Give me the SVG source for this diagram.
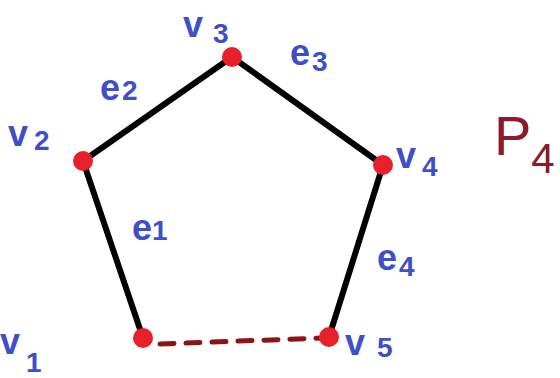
<svg xmlns="http://www.w3.org/2000/svg" width="560" height="378" viewBox="0 0 560 378">
<style>
.edge{stroke:#000;stroke-width:6;stroke-linecap:round;fill:none}
.dash{stroke:#8b1414;stroke-width:5;stroke-dasharray:14 12;stroke-linecap:round;fill:none}
.dot{fill:#e8202a}
.lbl{font-family:"Liberation Sans",Arial,sans-serif;font-size:36px;font-weight:bold;fill:#3f4fc8}
.sub{font-size:28px}
.p{font-family:"Liberation Sans",Arial,sans-serif;font-size:56px;fill:#8b1a2a}
</style>
<rect width="560" height="378" fill="#fff"/>
<g id="connectors">
<line class="edge" x1="143" y1="338" x2="83" y2="161"/>
<line class="edge" x1="83" y1="161" x2="232" y2="57"/>
<line class="edge" x1="232" y1="57" x2="383" y2="165"/>
<line class="edge" x1="383" y1="165" x2="329" y2="337"/>
<line class="dash" x1="160" y1="344" x2="322" y2="338"/>
</g>
<g id="v1"><circle class="dot" cx="143" cy="338" r="10"/><text class="lbl" x="0" y="354">v<tspan class="sub" dx="6" dy="18">1</tspan></text></g>
<g id="v2"><circle class="dot" cx="83" cy="161" r="10"/><text class="lbl" x="8" y="146">v<tspan class="sub" dx="6" dy="4">2</tspan></text></g>
<g id="v3"><circle class="dot" cx="232" cy="57" r="10"/><text class="lbl" x="183" y="37">v<tspan class="sub" dx="10" dy="6">3</tspan></text></g>
<g id="v4"><circle class="dot" cx="383" cy="165" r="10"/><text class="lbl" x="396" y="168">v<tspan class="sub" dx="6" dy="8">4</tspan></text></g>
<g id="v5"><circle class="dot" cx="329" cy="337" r="10"/><text class="lbl" x="345" y="355">v<tspan class="sub" dx="12" dy="2">5</tspan></text></g>
<g id="e1"><text class="lbl" x="132" y="240">e<tspan class="sub" dx="0">1</tspan></text></g>
<g id="e2"><text class="lbl" x="100" y="100">e<tspan class="sub" dx="2">2</tspan></text></g>
<g id="e3"><text class="lbl" x="290" y="65">e<tspan class="sub" dx="2" dy="6">3</tspan></text></g>
<g id="e4"><text class="lbl" x="377" y="270">e<tspan class="sub" dx="2" dy="6">4</tspan></text></g>
<g id="P4"><text class="p" x="494" y="155">P<tspan font-size="42" dy="18">4</tspan></text></g>
</svg>
